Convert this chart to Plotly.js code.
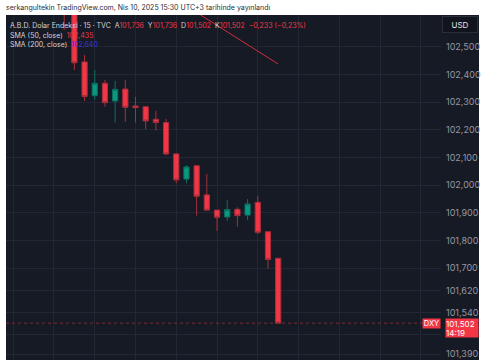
<!DOCTYPE html>
<html>
<head>
<meta charset="utf-8">
<script src="https://cdn.plot.ly/plotly-3.0.1.min.js"></script>
<style>html,body{margin:0;padding:0;background:#fff;}#chart{width:485px;height:360px;}</style>
</head>
<body>
<div id="chart"></div>
<script>
// 15-minute bars, index 0 = 10:15 (UTC+3)
const barIndex = [0,1,2,3,4,5,6,7,8,9,10,11,12,13,14,15,16,17,18,19,20,21];
const openVals  = [102.720,102.680,102.445,102.323,102.368,102.304,102.347,102.286,102.283,102.238,102.226,102.113,102.022,102.070,101.965,101.910,101.885,101.913,101.892,101.938,101.832,101.736];
const highVals  = [102.740,102.700,102.470,102.416,102.380,102.377,102.380,102.319,102.286,102.268,102.239,102.115,102.073,102.073,102.040,101.910,101.947,101.920,101.950,101.962,101.832,101.736];
const lowVals   = [102.560,102.416,102.304,102.308,102.283,102.226,102.229,102.226,102.202,102.197,102.108,102.007,102.007,101.890,101.909,101.835,101.872,101.850,101.874,101.824,101.699,101.502];
const closeVals = [102.680,102.442,102.320,102.368,102.298,102.346,102.281,102.280,102.232,102.226,102.113,102.019,102.066,101.960,101.910,101.884,101.912,101.890,101.932,101.830,101.732,101.502];

const yTickVals = [102.5,102.4,102.3,102.2,102.1,102.0,101.9,101.8,101.7,101.62,101.54,101.46,101.39];
// 101,460 sits under the last-price label in the original, so it is left blank
const yTickText = yTickVals.map(v => v === 101.46 ? '' : v.toFixed(3).replace('.', ','));

// user-drawn trend line (bar index, price)
const trendX = [12.5, 21.0];
const trendY = [102.635, 102.4375];

const lastPrice = closeVals[closeVals.length - 1];
const lastPriceText = lastPrice.toFixed(3).replace('.', ',');
const countdown = '14:19';

const RED = '#f23645', GREEN = '#089981';
const FONT = 'Inter, Roboto, sans-serif';
const NB = '\u00a0';

const trace = {
  type: 'candlestick',
  x: barIndex, open: openVals, high: highVals, low: lowVals, close: closeVals,
  increasing: {line: {color: '#0c6f60', width: 1}, fillcolor: GREEN},
  decreasing: {line: {color: '#a82f3b', width: 1}, fillcolor: RED},
  whiskerwidth: 0,
  hoverinfo: 'skip',
  showlegend: false
};

const gray = '#d1d4dc';
const red = s => '<span style="color:' + RED + '">' + s + '</span>';
const py = p => (360 - p) / 345;
const px = p => (p - 6) / 435;

const layout = {
  width: 485, height: 360,
  margin: {l: 6, r: 44, t: 15, b: 0, pad: 0},
  paper_bgcolor: '#ffffff',
  plot_bgcolor: '#161a25',
  boxgap: 0.27,
  showlegend: false,
  font: {family: FONT, color: gray, size: 9},
  xaxis: {
    range: [-5.71, 36.98],
    rangeslider: {visible: false},
    showticklabels: false,
    ticks: '',
    tick0: 3, dtick: 4,
    showgrid: true, gridcolor: '#232733', gridwidth: 1,
    zeroline: false, showline: false, fixedrange: true
  },
  yaxis: {
    side: 'right',
    range: [101.3689, 102.6144],
    tickmode: 'array', tickvals: yTickVals, ticktext: yTickText,
    ticks: '', ticklabelstandoff: 4,
    tickfont: {family: FONT, size: 9, color: '#9598a1'},
    showgrid: true, gridcolor: '#232733', gridwidth: 1,
    zeroline: false, showline: false, fixedrange: true
  },
  shapes: [
    {type: 'rect', xref: 'paper', yref: 'paper', x0: 0, x1: px(479), y0: 0, y1: 1,
     fillcolor: '#161a25', line: {width: 0}, layer: 'below'},
    {type: 'line', xref: 'paper', yref: 'y', x0: 0, x1: 1, y0: lastPrice, y1: lastPrice,
     line: {color: '#7d2a35', width: 1, dash: 'dot'}},
    {type: 'line', xref: 'x', yref: 'y', x0: trendX[0], x1: trendX[1], y0: trendY[0], y1: trendY[1],
     line: {color: '#d12e3e', width: 1}}
  ],
  annotations: [
    {xref: 'paper', yref: 'paper', x: px(4), y: py(7.5), xanchor: 'left', yanchor: 'middle', showarrow: false,
     text: 'serkangultekin TradingView.com, Nis 10, 2025 15:30 UTC+3 tarihinde yayınlandı',
     font: {family: FONT, size: 7, color: '#2a2e39'}},
    {xref: 'paper', yref: 'paper', x: px(8), y: py(25.5), xanchor: 'left', yanchor: 'middle', showarrow: false,
     text: 'A.B.D. Dolar Endeksi · 15 · TVC' + NB + NB + 'A' + red('101,736') + NB + NB + 'Y' + red('101,736') + NB + NB + 'D' + red('101,502') + NB + NB + 'K' + red('101,502') + NB + NB + red('−0,233 (−0,23%)'),
     font: {family: FONT, size: 7, color: gray}},
    {xref: 'paper', yref: 'paper', x: px(8), y: py(35), xanchor: 'left', yanchor: 'middle', showarrow: false,
     text: 'SMA (50, close)' + NB + NB + red('102,435'),
     font: {family: FONT, size: 7, color: gray}},
    {xref: 'paper', yref: 'paper', x: px(8), y: py(44), xanchor: 'left', yanchor: 'middle', showarrow: false,
     text: 'SMA (200, close)' + NB + NB + '<span style="color:#3436e0">102,640</span>',
     font: {family: FONT, size: 7, color: gray}},
    {xref: 'paper', yref: 'paper', x: px(460), y: py(24.5), xanchor: 'center', yanchor: 'middle', showarrow: false,
     text: 'USD', width: 32, height: 13, bgcolor: '#11141d', bordercolor: '#2a2e39', borderwidth: 1,
     font: {family: FONT, size: 8, color: '#e0e3eb'}},
    {xref: 'paper', yref: 'y', x: 1.0, y: lastPrice, xanchor: 'right', yanchor: 'middle', showarrow: false,
     text: 'DXY', width: 17, height: 9, bgcolor: RED, borderpad: 0,
     font: {family: FONT, size: 7.5, color: '#ffffff'}},
    {xref: 'paper', yref: 'y', x: px(445), y: lastPrice, xanchor: 'left', yanchor: 'middle', showarrow: false,
     text: lastPriceText, align: 'left', width: 32, height: 9, bgcolor: RED, borderpad: 0,
     font: {family: FONT, size: 8, color: '#ffffff'}},
    {xref: 'paper', yref: 'y', x: px(445), y: lastPrice, yshift: -9, xanchor: 'left', yanchor: 'middle', showarrow: false,
     text: countdown, align: 'left', width: 32, height: 9, bgcolor: RED, borderpad: 0,
     font: {family: FONT, size: 8, color: '#ffffff'}}
  ]
};

Plotly.newPlot('chart', [trace], layout, {displayModeBar: false, staticPlot: true});
</script>
</body>
</html>
